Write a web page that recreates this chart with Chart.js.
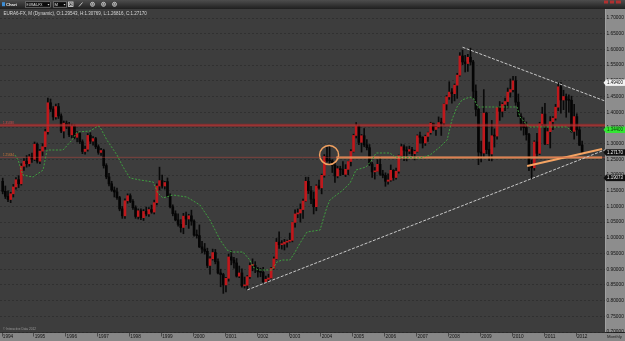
<!DOCTYPE html>
<html><head><meta charset="utf-8">
<script src="https://cdn.jsdelivr.net/npm/chart.js@4.4.0/dist/chart.umd.min.js"></script>
<style>html,body{margin:0;padding:0;background:#1e1e1e;overflow:hidden}</style>
</head><body>
<canvas id="c" width="625" height="341"></canvas>
<script>
// ---- DATA (monthly EUR A6-FX candles, first candle = Nov 1993) ----
const firstMonthIndex = -2; // months relative to Jan 1994
const opens = [
1.180,1.148,
1.132,1.122,1.140,1.162,1.185,1.172,1.228,1.244,1.236,1.258,1.250,1.298,
1.244,1.276,1.290,1.338,1.430,1.410,1.385,1.418,1.388,1.340,1.365,1.355,
1.328,1.355,1.320,1.332,1.306,1.275,1.282,1.326,1.308,1.316,1.290,1.272,
1.278,1.230,1.194,1.172,1.152,1.146,1.128,1.092,1.070,1.118,1.134,1.116,
1.096,1.068,1.086,1.064,1.084,1.076,1.090,1.082,1.112,1.165,1.182,1.165,
1.1790,1.1330,1.0990,1.0770,1.0570,1.0430,1.0330,1.0690,1.0600,1.0700,1.0530,1.0090,
1.0070,0.9710,0.9640,0.9570,0.9120,0.9330,0.9530,0.9240,0.8880,0.8830,0.8500,0.8710,
0.9390,0.9290,0.9200,0.8780,0.8880,0.8470,0.8490,0.8760,0.9120,0.9120,0.9010,0.8920,
0.8900,0.8600,0.8680,0.8720,0.9030,0.9330,0.9860,0.9780,0.9800,0.9860,0.9890,0.9920,
1.0490,1.0760,1.0790,1.0900,1.1170,1.1800,1.1500,1.1230,1.0990,1.1650,1.1590,1.1990,
1.2590,1.2460,1.2450,1.2310,1.1970,1.2200,1.2170,1.2020,1.2180,1.2430,1.2750,1.3260,
1.3560,1.3040,1.3250,1.2960,1.2870,1.2350,1.2100,1.2120,1.2340,1.2030,1.1990,1.1800,
1.1840,1.2150,1.1920,1.2120,1.2620,1.2900,1.2790,1.2760,1.2810,1.2680,1.2750,1.3250,
1.3200,1.3020,1.3230,1.3350,1.3650,1.3450,1.3530,1.3670,1.3650,1.4260,1.4490,1.4640,
1.4590,1.4860,1.5180,1.5790,1.5600,1.5550,1.5750,1.5600,1.4670,1.4090,1.2730,1.2700,
1.3970,1.2810,1.2670,1.3250,1.3240,1.4150,1.4030,1.4250,1.4340,1.4640,1.4720,1.5000,
1.4320,1.3870,1.3630,1.3510,1.3290,1.2300,1.2230,1.3050,1.2690,1.3630,1.3940,1.2990,
1.3380,1.3700,1.3810,1.4160,1.4810,1.4390,1.4500,1.4390,1.4380,1.3390,1.3860,1.3440,
1.29543];
const highs = [
1.190,1.165,
1.150,1.145,1.170,1.192,1.198,1.236,1.252,1.262,1.266,1.270,1.305,1.302,
1.282,1.300,1.346,1.445,1.442,1.418,1.426,1.428,1.395,1.372,1.372,1.368,
1.362,1.360,1.338,1.336,1.312,1.292,1.332,1.335,1.322,1.320,1.296,1.285,
1.282,1.236,1.205,1.180,1.162,1.158,1.132,1.100,1.124,1.140,1.140,1.122,
1.102,1.092,1.092,1.090,1.098,1.096,1.104,1.120,1.172,1.225,1.200,1.180,
1.1906,1.1400,1.1050,1.0860,1.0760,1.0580,1.0780,1.0820,1.0750,1.0880,1.0570,1.0250,
1.0410,0.9890,0.9820,0.9670,0.9400,0.9640,0.9630,0.9330,0.9000,0.8870,0.8740,0.9480,
0.9590,0.9380,0.9340,0.9100,0.9010,0.8750,0.8800,0.9200,0.9330,0.9240,0.9060,0.9030,
0.9060,0.8780,0.8840,0.9060,0.9390,0.9980,1.0190,0.9910,0.9950,0.9930,1.0150,1.0500,
1.0890,1.0920,1.1080,1.1230,1.1930,1.1930,1.1640,1.1460,1.1690,1.1840,1.2030,1.2650,
1.2900,1.2930,1.2490,1.2380,1.2280,1.2280,1.2430,1.2330,1.2440,1.2810,1.3300,1.3670,
1.3590,1.3290,1.3480,1.3130,1.2970,1.2400,1.2240,1.2490,1.2580,1.2150,1.2070,1.2040,
1.2320,1.2170,1.2220,1.2640,1.2980,1.2960,1.2900,1.2920,1.2880,1.2790,1.3280,1.3370,
1.3220,1.3270,1.3370,1.3680,1.3650,1.3540,1.3850,1.3810,1.4270,1.4530,1.4970,1.4750,
1.4900,1.5240,1.5900,1.5980,1.5810,1.5840,1.6040,1.5650,1.4870,1.4190,1.3080,1.4720,
1.4000,1.3050,1.3740,1.3470,1.4170,1.4340,1.4300,1.4450,1.4770,1.5060,1.5140,1.5140,
1.4580,1.3960,1.3820,1.3690,1.3330,1.2480,1.3090,1.3330,1.3680,1.4160,1.4280,1.3500,
1.3860,1.3860,1.4250,1.4940,1.4940,1.4700,1.4580,1.4550,1.4510,1.4250,1.3950,1.3550,
1.30769];
const lows = [
1.140,1.125,
1.115,1.112,1.130,1.155,1.160,1.168,1.215,1.225,1.228,1.240,1.246,1.238,
1.236,1.262,1.282,1.330,1.402,1.375,1.378,1.380,1.335,1.318,1.348,1.322,
1.318,1.315,1.305,1.300,1.268,1.266,1.276,1.300,1.295,1.284,1.266,1.262,
1.222,1.188,1.165,1.148,1.130,1.122,1.086,1.062,1.062,1.110,1.112,1.090,
1.062,1.060,1.058,1.055,1.070,1.068,1.078,1.076,1.105,1.152,1.158,1.155,
1.1296,1.0950,1.0700,1.0540,1.0370,1.0180,1.0130,1.0420,1.0300,1.0400,1.0050,0.9990,
0.9690,0.9520,0.9480,0.9050,0.8840,0.9290,0.9170,0.8850,0.8440,0.8230,0.8280,0.8620,
0.9140,0.9030,0.8750,0.8730,0.8430,0.8400,0.8340,0.8710,0.8950,0.8890,0.8750,0.8760,
0.8580,0.8570,0.8630,0.8710,0.9000,0.9310,0.9660,0.9640,0.9610,0.9700,0.9860,0.9870,
1.0340,1.0640,1.0500,1.0620,1.1150,1.1410,1.1090,1.0760,1.0860,1.1550,1.1400,1.1930,
1.2420,1.2360,1.2080,1.1760,1.1910,1.1980,1.2010,1.1950,1.2010,1.2290,1.2730,1.3180,
1.2970,1.2730,1.2900,1.2800,1.2300,1.1920,1.1870,1.2120,1.1990,1.1910,1.1640,1.1710,
1.1800,1.1830,1.1870,1.2060,1.2520,1.2460,1.2450,1.2680,1.2610,1.2480,1.2730,1.3010,
1.2860,1.2940,1.3070,1.3300,1.3410,1.3260,1.3500,1.3260,1.3590,1.4070,1.4410,1.4290,
1.4360,1.4440,1.5150,1.5510,1.5280,1.5300,1.5500,1.4430,1.3880,1.2330,1.2420,1.2550,
1.2680,1.2460,1.2450,1.2890,1.3140,1.3740,1.3850,1.4050,1.4130,1.4480,1.4650,1.4220,
1.3860,1.3430,1.3270,1.3110,1.2140,1.1880,1.2150,1.2590,1.2650,1.3570,1.2970,1.2970,
1.2860,1.3440,1.3750,1.4050,1.3970,1.4080,1.3840,1.4000,1.3360,1.3140,1.3260,1.2940,
1.26816];
const closes = [
1.148,1.132,
1.122,1.140,1.162,1.185,1.172,1.228,1.244,1.236,1.258,1.250,1.298,1.244,
1.276,1.290,1.338,1.430,1.410,1.385,1.418,1.388,1.340,1.365,1.355,1.328,
1.355,1.320,1.332,1.306,1.275,1.282,1.326,1.308,1.316,1.290,1.272,1.278,
1.230,1.194,1.172,1.152,1.146,1.128,1.092,1.070,1.118,1.134,1.116,1.096,
1.068,1.086,1.064,1.084,1.076,1.090,1.082,1.112,1.165,1.182,1.165,1.176,
1.1330,1.0990,1.0770,1.0570,1.0430,1.0330,1.0690,1.0600,1.0700,1.0530,1.0090,1.0070,
0.9710,0.9640,0.9570,0.9120,0.9330,0.9530,0.9240,0.8880,0.8830,0.8500,0.8710,0.9390,
0.9290,0.9200,0.8780,0.8880,0.8470,0.8490,0.8760,0.9120,0.9120,0.9010,0.8920,0.8900,
0.8600,0.8680,0.8720,0.9030,0.9330,0.9860,0.9780,0.9800,0.9860,0.9890,0.9920,1.0490,
1.0760,1.0790,1.0900,1.1170,1.1800,1.1500,1.1230,1.0990,1.1650,1.1590,1.1990,1.2590,
1.2460,1.2450,1.2310,1.1970,1.2200,1.2170,1.2020,1.2180,1.2430,1.2750,1.3260,1.3560,
1.3040,1.3250,1.2960,1.2870,1.2350,1.2100,1.2120,1.2340,1.2030,1.1990,1.1800,1.1840,
1.2150,1.1920,1.2120,1.2620,1.2900,1.2790,1.2760,1.2810,1.2680,1.2750,1.3250,1.3200,
1.3020,1.3230,1.3350,1.3650,1.3450,1.3530,1.3670,1.3650,1.4260,1.4490,1.4640,1.4590,
1.4860,1.5180,1.5790,1.5600,1.5550,1.5750,1.5600,1.4670,1.4090,1.2730,1.2700,1.3970,
1.2810,1.2670,1.3250,1.3240,1.4150,1.4030,1.4250,1.4340,1.4640,1.4720,1.5000,1.4320,
1.3870,1.3630,1.3510,1.3290,1.2300,1.2230,1.3050,1.2690,1.3630,1.3940,1.2990,1.3380,
1.3700,1.3810,1.4160,1.4810,1.4390,1.4500,1.4390,1.4380,1.3390,1.3860,1.3440,1.2950,
1.27170];
// green dashed indicator line: [month index, value]
const greenLine = [
[2.6,1.2637],[3.8,1.2478],[5.6,1.2000],[9.4,1.1936],[13.2,1.2159],[14.7,1.2796],[20.7,1.2796],
[24.1,1.3115],[26.0,1.3369],[30.9,1.3401],[33.9,1.3561],[34.6,1.3529],[37.2,1.3115],[41.0,1.2637],
[43.3,1.2255],[45.9,1.1904],[49.7,1.1841],[54.6,1.1777],[56.4,1.1427],[58.3,1.1268],[62.1,1.1363],
[67.3,1.1299],[72.2,1.1045],[76.0,1.0567],[77.9,1.0248],[79.8,0.9930],[82.4,0.9611],[84.3,0.9548],
[88.4,0.9548],[91.0,0.9293],[92.2,0.9070],[94.1,0.8975],[99.3,0.8975],[101.2,0.9229],[103.1,0.9293],
[106.1,0.9293],[108.0,0.9548],[109.9,0.9834],[112.5,1.0185],[117.4,1.0248],[118.5,1.0567],
[120.0,1.0981],[121.1,1.1204],[126.0,1.1522],[128.7,1.1745],[130.9,1.2159],[134.7,1.2255],
[136.9,1.2478],[138.5,1.2701],[143.7,1.2701],[145.6,1.2573],[155.0,1.2541],[158.8,1.2637],
[162.5,1.2892],[165.2,1.3115],[167.0,1.3752],[168.9,1.4166],[170.8,1.4389],[173.8,1.4484],
[175.3,1.4420],[176.8,1.4166],[191.5,1.4166],[192.6,1.3847],[195.3,1.3592],[196.4,1.3529],
[210.3,1.3529],[212.2,1.3370]];
const yearLabels = ['1994','1995','1996','1997','1998','1999','2000','2001','2002','2003','2004','2005','2006','2007','2008','2009','2010','2011','2012'];
const yTicks = [0.70,0.75,0.80,0.85,0.90,0.95,1.00,1.05,1.10,1.15,1.20,1.25,1.30,1.35,1.40,1.45,1.50,1.55,1.60,1.65,1.70];
// drawn studies: [month index, value]
const upTrend = [[90,0.834],[224.6,1.280]];
const downTrend = [[171,1.607],[224.6,1.4357]];
const orangeTrend = [[195.3,1.2287],[223.5,1.2828]];
const orangeLevel = [[123.5,1.2555],[223.5,1.2555]];
const redLevel = 1.35838;
const faintLevel = 1.25634;
const circleMark = [120.8,1.264];
const xMin = -3.01, xMax = 224.6, yMin = 0.70, yMax = 1.7287;

// ---- CHART ----
const xs = opens.map((_, k) => k + firstMonthIndex);
const pts = a => a.map(p => ({x: p[0], y: p[1]}));
const lineDs = (data, color, width, dash, order) => ({type:'line', data, borderColor:color, borderWidth:width, borderDash:dash||[], pointRadius:0, fill:false, order, tension:0});

function fitFont(ctx, text, w, weight) {
  let s = 10;
  ctx.font = (weight||'') + ' ' + s + 'px "Liberation Sans", Arial, sans-serif';
  const m = ctx.measureText(text).width;
  s = 10 * w / m;
  ctx.font = (weight||'') + ' ' + s + 'px "Liberation Sans", Arial, sans-serif';
}
function txt(ctx, text, x, y, w, color, align, weight) {
  fitFont(ctx, text, w, weight);
  ctx.fillStyle = color; ctx.textAlign = align || 'left'; ctx.textBaseline = 'middle';
  ctx.fillText(text, x, y);
}

const deco = {
  id: 'deco',
  beforeDraw(chart) {
    const {ctx, chartArea: a, width, height} = chart;
    ctx.save();
    ctx.fillStyle = '#1e1e1e'; ctx.fillRect(0, 0, width, height);
    ctx.fillStyle = '#3d3d3d'; ctx.fillRect(a.left, a.top, a.right - a.left, a.bottom - a.top);
    ctx.fillStyle = '#8d8d8d'; ctx.fillRect(a.right, a.top, width - a.right, a.bottom - a.top);
    ctx.fillStyle = '#a0a0a0'; ctx.fillRect(a.right, a.top, 1, a.bottom - a.top);
    ctx.fillStyle = '#878787'; ctx.fillRect(0, a.bottom, width, height - a.bottom);
    ctx.fillStyle = '#2a2a2a'; ctx.fillRect(0, a.bottom, width, 1);
    ctx.restore();
  },
  afterDraw(chart) {
    const {ctx, chartArea: a, width} = chart;
    const ys = chart.scales.y, xsc = chart.scales.x;
    ctx.save();
    // year labels on the time axis
    yearLabels.forEach((lab, k) => {
      const px = xsc.getPixelForValue(k * 12);
      ctx.fillStyle = '#4a4a4a'; ctx.fillRect(Math.round(px - 6.5), a.bottom + 1, 1, 3.5);
      txt(ctx, lab, px, a.bottom + 4.8, 10.5, '#121212', 'center');
    });
    // toolbar
    const g = ctx.createLinearGradient(0, 0, 0, 9);
    g.addColorStop(0, '#4d4d4d'); g.addColorStop(1, '#1f1f1f');
    ctx.fillStyle = g; ctx.fillRect(0, 0, width, 9);
    ctx.fillStyle = '#3d8ed6'; ctx.fillRect(2, 2.2, 3, 4);
    txt(ctx, 'Chart', 6, 4.6, 11, '#e6e6e6', 'left', 'bold');
    ctx.fillStyle = '#0c0c0c'; ctx.fillRect(25, 1.5, 26, 6);
    ctx.strokeStyle = '#9a9a9a'; ctx.lineWidth = 0.6; ctx.strokeRect(25.3, 1.8, 25.4, 5.4);
    txt(ctx, 'EURA6-FX', 26.5, 4.7, 16, '#e0e0e0');
    ctx.fillStyle = '#ddd'; ctx.beginPath(); ctx.moveTo(47.5, 4); ctx.lineTo(49.5, 4); ctx.lineTo(48.5, 5.4); ctx.fill();
    ctx.fillStyle = '#0c0c0c'; ctx.fillRect(53, 1.5, 14, 6);
    ctx.strokeStyle = '#9a9a9a'; ctx.strokeRect(53.3, 1.8, 13.4, 5.4);
    txt(ctx, 'M', 54.5, 4.7, 3.5, '#e0e0e0');
    ctx.fillStyle = '#ddd'; ctx.beginPath(); ctx.moveTo(63.5, 4); ctx.lineTo(65.5, 4); ctx.lineTo(64.5, 5.4); ctx.fill();
    ctx.strokeStyle = '#e0e0e0'; ctx.lineWidth = 0.8;
    ctx.strokeRect(68.5, 2, 4.5, 4.5);
    ctx.beginPath(); ctx.arc(70.75, 4.25, 1.3, 0, Math.PI * 2); ctx.stroke();
    ctx.beginPath(); ctx.moveTo(79, 6.5); ctx.lineTo(82.5, 2.5); ctx.stroke();
    [92.5, 103.5, 114.5].forEach(cx => { ctx.beginPath(); ctx.arc(cx, 4.3, 2, 0, Math.PI * 2); ctx.stroke(); ctx.beginPath(); ctx.arc(cx, 4.3, 0.7, 0, Math.PI * 2); ctx.stroke(); });
    ctx.fillStyle = '#b03030'; ctx.fillRect(604, 0.5, 4, 3); ctx.fillRect(610, 0.5, 4, 3); ctx.fillRect(616, 0.5, 5, 3);
    // title
    txt(ctx, 'EURA6-FX, M (Dynamic), O:1.29543, H:1.30769, L:1.26816, C:1.27170', 3.5, 14, 144, '#d8d8d8');
    // left level labels
    txt(ctx, redLevel.toFixed(5), 3, ys.getPixelForValue(redLevel) - 2.5, 11, '#d04a4a');
    txt(ctx, faintLevel.toFixed(5), 3, ys.getPixelForValue(faintLevel) - 2.5, 11, '#d07a3a');
    // watermark
    txt(ctx, '\u00a9 Interactive Data 2012', 3, 329, 33, '#9a9a9a');
    // right axis markers
    const marker = (v, label, bg, fg) => {
      const y = ys.getPixelForValue(v);
      ctx.fillStyle = bg; ctx.fillRect(a.right + 1, y - 3.2, width - a.right - 1, 6.4);
      ctx.beginPath(); ctx.moveTo(a.right - 1.5, y); ctx.lineTo(a.right + 1, y - 3.2); ctx.lineTo(a.right + 1, y + 3.2); ctx.fill();
      txt(ctx, label, a.right + 2, y + 0.2, 16, fg);
    };
    marker(1.49400, '1.49400', '#f2f2f2', '#111');
    marker(1.34400, '1.34400', '#33e533', '#0a3a0a');
    marker(1.27170, '1.27170', '#101010', '#f0f0f0');
    marker(1.19073, '1.19073', '#101010', '#f0f0f0');
    // bottom right
    txt(ctx, 'Monthly', 607, 337, 15, '#222');
    ctx.restore();
  }
};

new Chart(document.getElementById('c'), {
  type: 'bar',
  data: {
    datasets: [
      lineDs(pts(greenLine), '#3f9e3f', 1, [2, 1.5], 0),
      lineDs(pts(upTrend), '#c8c8c8', 1, [3, 1.5], 0),
      lineDs(pts(downTrend), '#c8c8c8', 1, [3, 1.5], 0),
      lineDs([{x: xMin, y: faintLevel}, {x: xMax, y: faintLevel}], 'rgba(190,70,60,0.5)', 1, [], 0),
      lineDs([{x: xMin, y: redLevel}, {x: xMax, y: redLevel}], 'rgba(170,40,40,0.6)', 3, [], 0),
      lineDs([{x: xMin, y: redLevel}, {x: xMax, y: redLevel}], 'rgba(225,90,90,0.55)', 1, [], 0),
      lineDs(pts(orangeLevel), '#f5a463', 2, [], 0),
      lineDs(pts(orangeTrend), '#f5a463', 2, [], 0),
      {type: 'line', data: [{x: circleMark[0], y: circleMark[1]}], showLine: false, pointRadius: 9.5,
       pointBorderColor: '#f0a060', pointBackgroundColor: 'rgba(0,0,0,0)', pointBorderWidth: 1.5, order: 0},
      {type: 'bar', data: xs.map((x, k) => ({x, y: [opens[k], closes[k]]})),
       backgroundColor: xs.map((x, k) => closes[k] >= opens[k] ? '#c0181c' : '#050505'),
       grouped: false, barPercentage: 1, categoryPercentage: 1, maxBarThickness: 2, minBarLength: 1, order: 1},
      {type: 'bar', data: xs.map((x, k) => ({x, y: [lows[k], highs[k]]})),
       backgroundColor: '#0a0a0a', grouped: false, barPercentage: 1, categoryPercentage: 1, maxBarThickness: 1, order: 2}
    ]
  },
  options: {
    responsive: false, animation: false, devicePixelRatio: 1,
    layout: {autoPadding: false, padding: {top: 9, left: 0, right: 0, bottom: 0}},
    plugins: {legend: {display: false}, tooltip: {enabled: false}},
    scales: {
      x: {type: 'linear', min: xMin, max: xMax, offset: false,
        afterBuildTicks: s => { s.ticks = yearLabels.map((_, k) => ({value: k * 12})); },
        afterFit: s => { s.height = 9; s.paddingLeft = 0; s.paddingRight = 0; },
        ticks: {display: false},
        grid: {display: false}, border: {display: false}},
      y: {type: 'linear', position: 'right', min: yMin, max: yMax,
        afterBuildTicks: s => { s.ticks = yTicks.map(v => ({value: v})); },
        afterFit: s => { s.width = 20; s.paddingTop = 0; s.paddingBottom = 0; },
        ticks: {padding: 1.5, color: '#111', font: {size: 4.8, family: '"Liberation Sans", Arial, sans-serif'},
          callback: v => Number(v).toFixed(5)},
        grid: {color: '#303030', drawTicks: false, lineWidth: 1},
        border: {display: false, dash: [2, 2]}}
    }
  },
  plugins: [deco]
});
</script>
</body></html>
